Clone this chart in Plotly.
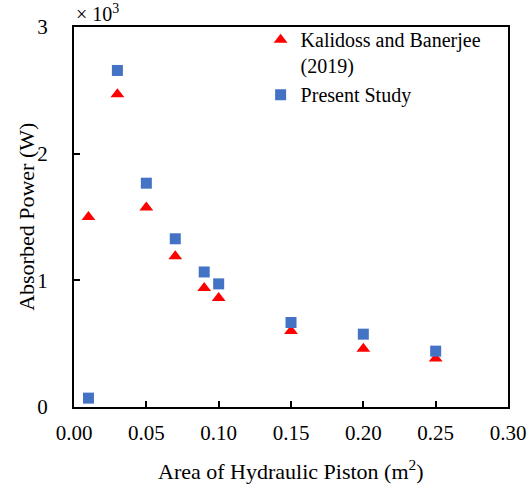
import plotly.graph_objects as go

area = [0.01, 0.03, 0.05, 0.07, 0.09, 0.10, 0.15, 0.20, 0.25]
kalidoss = [1.50, 2.47, 1.575, 1.19, 0.94, 0.86, 0.60, 0.46, 0.383]
present = [0.07, 2.657, 1.767, 1.328, 1.066, 0.972, 0.667, 0.575, 0.441]

font = "Liberation Serif, Times New Roman, serif"

fig = go.Figure()
fig.add_trace(go.Scatter(x=area, y=kalidoss, mode="markers",
                         name="Kalidoss and Banerjee<br>(2019)",
                         marker=dict(symbol="triangle-up", size=12, color="#FF0000")))
fig.add_trace(go.Scatter(x=area, y=present, mode="markers",
                         name="Present Study",
                         marker=dict(symbol="square", size=11, color="#4472C4")))

axis_common = dict(showline=True, linecolor="black", linewidth=2, mirror=True,
                   ticks="inside", ticklen=6, tickwidth=2, tickcolor="black",
                   showgrid=False, zeroline=False, automargin=False,
                   tickfont=dict(family=font, size=21, color="black"))

fig.update_layout(
    width=527, height=486,
    margin=dict(l=74, r=19, t=27, b=79),
    paper_bgcolor="white", plot_bgcolor="white",
    font=dict(family=font, size=21, color="black"),
    xaxis=dict(range=[0, 0.30], tickvals=[0, 0.05, 0.10, 0.15, 0.20, 0.25, 0.30],
               tickformat=".2f", ticklabelstandoff=6,
               **axis_common),
    yaxis=dict(range=[0, 3], tickvals=[0, 1, 2, 3], ticklabelstandoff=20,
               **axis_common),
    legend=dict(x=0.43, y=1.018, xanchor="left", yanchor="top",
                bgcolor="rgba(0,0,0,0)", valign="top",
                font=dict(family=font, size=20, color="black"),
                tracegroupgap=0),
    annotations=[
        dict(text="× 10<sup>3</sup>", xref="paper", yref="paper",
             x=0, y=1.036, xanchor="left", yanchor="middle",
             showarrow=False, font=dict(family=font, size=20, color="black")),
        dict(text="Absorbed Power (W)", xref="paper", yref="paper",
             x=-0.111, y=0.5, xanchor="center", yanchor="middle", textangle=-90,
             showarrow=False, font=dict(family=font, size=22, color="black")),
        dict(text="Area of Hydraulic Piston (m<sup>2</sup>)", xref="paper", yref="paper",
             x=0.5, y=-0.166, xanchor="center", yanchor="middle",
             showarrow=False, font=dict(family=font, size=22, color="black")),
    ],
)

fig.write_html("out.html")
